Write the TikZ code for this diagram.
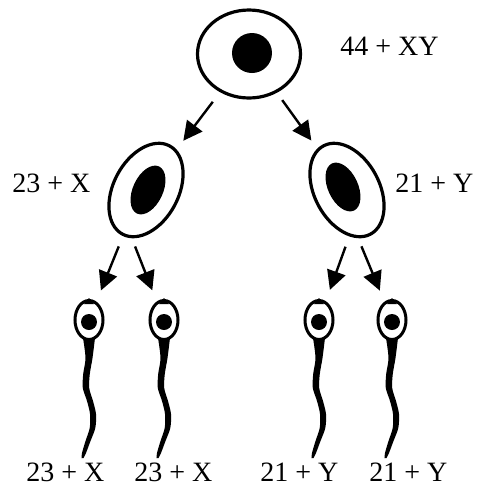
\documentclass[tikz,border=0pt]{standalone}
\usepackage{fontspec}
\setmainfont{Liberation Serif}
\usetikzlibrary{arrows.meta,shapes,positioning}

\begin{document}
\begin{tikzpicture}[x=0.5pt, y=-0.5pt,
  cell/.style={draw, ellipse, line width=1.6pt, inner sep=0pt},
  nucleus/.style={fill, ellipse, inner sep=0pt},
  sperm/.style={draw, ellipse, line width=1.5pt, inner sep=0pt,
    minimum width=14pt, minimum height=19.5pt,
    path picture={\fill ([yshift=-1pt]path picture bounding box.center) circle (4pt);}},
  arr/.style={-{Triangle[length=9.5pt,width=9.5pt]}, line width=1.2pt},
  lab/.style={anchor=base west, inner sep=0pt, font=\fontsize{14}{16}\selectfont},
 ]

\useasboundingbox (0,0) rectangle (480,489);

% parent cell
\node[cell, minimum width=51.5pt, minimum height=44pt] (top) at (249,54) {};
\node[nucleus, minimum width=20pt, minimum height=20pt] (topN) at (252,53) {};
\node[lab] (topL) at (340,55) {44 + XY};

% daughter cells
\node[cell, minimum width=32.5pt, minimum height=50pt, rotate=-28] (cellL) at (146,190) {};
\node[nucleus, minimum width=15pt, minimum height=26pt, rotate=-25] (cellLN) at (148,190) {};
\node[lab] (cellLL) at (12,192) {23 + X};

\node[cell, minimum width=32.5pt, minimum height=50pt, rotate=28] (cellR) at (347,190) {};
\node[nucleus, minimum width=15pt, minimum height=26pt, rotate=25] (cellRN) at (343,187) {};
\node[lab] (cellRL) at (395,192) {21 + Y};

% sperm heads
\node[sperm] (S1) at (89,320) {};
\node[sperm, right=22pt of S1] (S2) {};
\node[sperm] (S3) at (319,320) {};
\node[sperm, right=21pt of S3] (S4) {};

% pointed tip on top, tail below
\foreach \s in {S1,S2,S3,S4} {
  \fill[shift={(\s.north)}] (-5,5) -- (0,-1) -- (5,5) -- cycle;
  \fill[shift={(\s.south)}]
    plot[smooth] coordinates {(-6,-3) (-3.5,17) (-5.8,33) (-6.2,47) (-2,60) (1,73) (0.7,87) (-3.5,100) (-7,112) (-7.5,117)}
    -- plot[smooth] coordinates {(-5.5,117) (-3,112) (1.5,100) (6.3,87) (7,73) (4,60) (0.2,47) (0.8,33) (3.5,17) (6,-3)}
    -- cycle;
}

\node[lab] (S1L) at (26,481) {23 + X};
\node[lab] (S2L) at (134,481) {23 + X};
\node[lab] (S3L) at (260,481) {21 + Y};
\node[lab] (S4L) at (369,481) {21 + Y};

% arrows
\coordinate (forkL) at (127,226);
\coordinate (forkR) at (353,226);

\draw[arr, shorten <=6pt, shorten >=5.5pt] (top) -- (cellL);
\draw[arr, shorten <=4.5pt, shorten >=5pt] (top) -- (cellR);
\draw[arr, shorten <=11pt, shorten >=6pt] (forkL) -- (S1);
\draw[arr, shorten <=11pt, shorten >=6pt] (forkL) -- (S2);
\draw[arr, shorten <=11pt, shorten >=6pt] (forkR) -- (S3);
\draw[arr, shorten <=11pt, shorten >=6pt] (forkR) -- (S4);

\end{tikzpicture}
\end{document}
